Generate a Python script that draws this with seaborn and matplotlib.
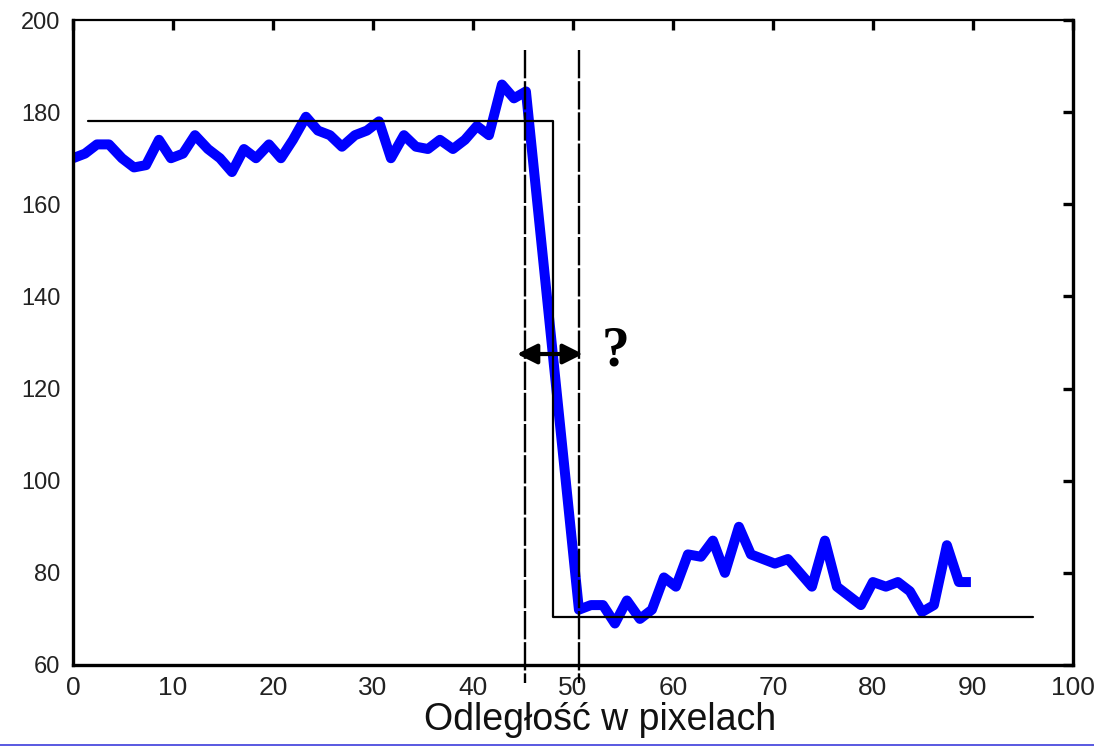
import matplotlib.pyplot as plt
from matplotlib.lines import Line2D
import pandas as pd
import seaborn as sns

# profile of pixel brightness across an edge
dist = [0, 1.2, 2.4, 3.6, 4.9, 6.1, 7.3, 8.6, 9.8, 11, 12.2, 13.5, 14.7, 15.9,
        17.1, 18.3, 19.6, 20.8, 22, 23.3, 24.5, 25.7, 26.9, 28.2, 29.4, 30.6,
        31.8, 33.1, 34.3, 35.5, 36.7, 38, 39.2, 40.4, 41.6, 42.9, 44.1, 45.3,
        50.6, 51.8, 53, 54.2, 55.4, 56.7, 57.9, 59.1, 60.3, 61.5, 62.8, 64,
        65.2, 66.6, 67.8, 69, 70.2, 71.5, 72.7, 73.9, 75.2, 76.4, 77.6, 78.8,
        80, 81.3, 82.5, 83.7, 84.9, 86.1, 87.4, 88.6, 89.8]
brightness = [170, 171, 173, 173, 170, 168, 168.5, 174, 170, 171, 175, 172, 170, 167,
              172, 170, 173, 170, 174, 179, 176, 175, 172.5, 175, 176, 178,
              170, 175, 172.5, 172, 174, 172, 174, 177, 175, 186, 183, 184.5,
              72, 73, 73, 69, 74, 70, 72, 79, 77, 84, 83.5, 87,
              80, 90, 84, 83, 82, 83, 80, 77, 87, 77, 75, 73,
              78, 77, 78, 76, 71.5, 73, 86, 78, 78]

# ideal step edge
step_x = [1.5, 48, 48, 96]
step_y = [178, 178, 70.5, 70.5]

# uncertainty band around the edge
edge_lo, edge_hi = 45.2, 50.6
arrow_y = 127.5

sns.set_style("white")
plt.rcParams['font.family'] = ['Liberation Sans', 'DejaVu Sans']

fig = plt.figure(figsize=(10.94, 7.47), dpi=100)
ax = fig.add_axes([0.0667, 0.1098, 0.914, 0.8634])

df = pd.DataFrame({'x': dist, 'y': brightness})
sns.lineplot(data=df, x='x', y='y', ax=ax, color='#0000ff', lw=7.2,
             sort=False, estimator=None, solid_joinstyle='round',
             solid_capstyle='butt')
sns.lineplot(x=step_x, y=step_y, ax=ax, color='black', lw=1.6,
             sort=False, estimator=None)

for xv in (edge_lo, edge_hi):
    ax.plot([xv, xv], [193.5, 56], color='black', lw=1.7,
            linestyle=(0, (12, 1.2)), clip_on=False)

ax.annotate('', xy=(edge_lo - 0.8, arrow_y), xytext=(edge_hi + 0.4, arrow_y),
            arrowprops=dict(arrowstyle='<|-|>', color='black', lw=3,
                            mutation_scale=30, shrinkA=0, shrinkB=0))
ax.text(52.9, arrow_y + 0.5, '?', fontsize=40, fontweight='bold', color='black',
        family=['Liberation Serif', 'DejaVu Serif'], va='center', ha='left')

ax.set_xlim(0, 100)
ax.set_ylim(60, 200)
ax.set_xticks(range(0, 101, 10))
ax.set_yticks(range(60, 201, 20))

for s in ax.spines.values():
    s.set_color('black')
    s.set_linewidth(2.4)
ax.spines['top'].set_linewidth(1.6)

ax.tick_params(axis='both', direction='in', length=7, width=2.4, color='black',
               top=True, right=True, labelcolor='#222222')
ax.tick_params(axis='y', labelsize=17, pad=9)
ax.tick_params(axis='x', labelsize=19, pad=8)

ax.set_xlabel('Odległość w pixelach', fontsize=27, color='#111111')
ax.set_ylabel('')
ax.xaxis.set_label_coords(0.527, -0.058)

# thin blue separator at the bottom edge of the slide
fig.add_artist(Line2D([0, 1], [0.003, 0.003], transform=fig.transFigure,
                      color='#3c3cdc', lw=1.2))

fig.savefig('out.png', dpi=100, facecolor='white')
